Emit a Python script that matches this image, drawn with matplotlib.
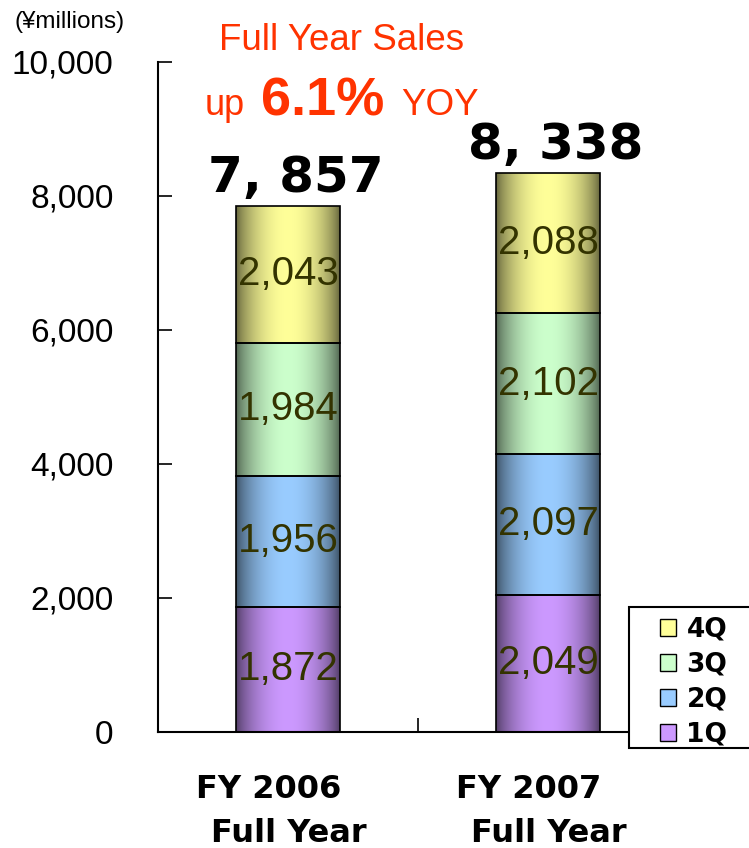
import numpy as np
import matplotlib
matplotlib.use("Agg")
import matplotlib.pyplot as plt
from matplotlib.patches import Patch, Rectangle
from matplotlib.colors import to_rgb
from matplotlib.transforms import blended_transform_factory

# ---- data ----
categories = ["FY 2006", "FY 2007"]
sublabels = ["Full Year", "Full Year"]
quarters = ["1Q", "2Q", "3Q", "4Q"]
q1 = [1872, 2049]
q2 = [1956, 2097]
q3 = [1984, 2102]
q4 = [2043, 2088]
totals = [7857, 8338]
total_labels = ["7, 857", "8, 338"]
yticks = [0, 2000, 4000, 6000, 8000, 10000]
ytick_labels = ["0", "2,000", "4,000", "6,000", "8,000", "10,000"]
colors = ["#CC99FF", "#99CCFF", "#CCFFCC", "#FFFF99"]

series = [q1, q2, q3, q4]

W, H = 749, 848
fig = plt.figure(figsize=(W / 100, H / 100), dpi=100)
ax = fig.add_axes([158 / W, 1 - 732 / H, (678 - 158) / W, (732 - 62) / H])

x = np.arange(len(categories))
bw = 0.4

def gradient_img(color, n=200):
    t = np.linspace(0, 1, n)
    f = 0.38 + 0.62 * np.sin(np.pi * t) ** 0.7
    rgb = np.array(to_rgb(color))
    img = np.clip(f[:, None] * rgb[None, :], 0, 1)
    return img[None, :, :]

bottom = np.zeros(len(categories))
for vals, col in zip(series, colors):
    bars = ax.bar(x, vals, bw, bottom=bottom, color="none",
                  edgecolor="black", linewidth=1.2, zorder=3)
    for b, v in zip(bars, vals):
        x0, y0 = b.get_x(), b.get_y()
        im = ax.imshow(gradient_img(col), extent=[x0, x0 + b.get_width(), y0, y0 + b.get_height()],
                       aspect="auto", zorder=2, interpolation="bilinear")
        im.set_clip_path(b)
        ax.text(b.get_x() + b.get_width() / 2, y0 + b.get_height() / 2, f"{v:,}",
                ha="center", va="center", fontsize=29, color="#333300",
                family="Liberation Sans", zorder=4)
    bottom = bottom + np.array(vals)

ax.set_ylim(0, 10000)
ax.set_xlim(-0.5, 1.5)

for xi, tot, lab in zip(x, totals, total_labels):
    ax.text(xi + 0.03, tot + 60, lab, ha="center", va="bottom", fontsize=36,
            fontweight="bold", family="DejaVu Sans", color="black", zorder=5)

# axes styling
for s in ["top", "right"]:
    ax.spines[s].set_visible(False)
ax.spines["left"].set_linewidth(1.5)
ax.spines["bottom"].set_linewidth(1.5)
ax.set_yticks(yticks)
ax.set_yticklabels(ytick_labels, fontsize=24, family="Liberation Sans")
ax.tick_params(axis="y", direction="in", length=10, width=1.2, pad=32)
ax.set_xticks([-0.5, 0.5, 1.5])
ax.set_xticklabels([])
ax.tick_params(axis="x", direction="in", length=10, width=1.2)

trans = blended_transform_factory(ax.transData, fig.transFigure)
for xi, c, s in zip(x, categories, sublabels):
    ax.text(xi - 0.355, 1 - 789 / H, c, transform=trans, ha="left", va="center",
            fontsize=23, fontweight="bold", family="DejaVu Sans")
    ax.text(xi - 0.295, 1 - 833 / H, s, transform=trans, ha="left", va="center",
            fontsize=23, fontweight="bold", family="DejaVu Sans")

fig.text(70 / W, 1 - 22 / H, "(¥millions)", ha="center", va="center",
         fontsize=17.5, family="Liberation Sans")

red = "#FF3300"
fig.text(342 / W, 1 - 40 / H, "Full Year Sales", ha="center", va="center",
         fontsize=26.5, color=red, family="Liberation Sans")
fig.text(205 / W, 1 - 115 / H, "up", ha="left", va="baseline",
         fontsize=26, color=red, family="Liberation Sans")
fig.text(261 / W, 1 - 115 / H, "6.1%", ha="left", va="baseline",
         fontsize=39, color=red, fontweight="bold", family="Liberation Sans")
fig.text(401 / W, 1 - 115 / H, "YOY", ha="left", va="baseline",
         fontsize=26.5, color=red, family="Liberation Sans")

# legend frame (extends past the right edge as in the reference)
frame = Rectangle((629 / W, 1 - 748 / H), 140 / W, (748 - 607) / H,
                  transform=fig.transFigure, facecolor="white", edgecolor="black",
                  linewidth=1.5, zorder=9)
fig.add_artist(frame)

handles = [Patch(facecolor=c, edgecolor="black", linewidth=1.0, label=q)
           for q, c in zip(quarters, colors)][::-1]
leg = fig.legend(handles=handles, loc="upper left",
                 bbox_to_anchor=(660 / W, 1 - 617 / H),
                 prop={"family": "DejaVu Sans", "weight": "bold", "size": 19},
                 frameon=False,
                 handlelength=0.6, handleheight=0.6, handletextpad=0.4,
                 labelspacing=0.34, borderpad=0.0, borderaxespad=0.0)
leg.set_zorder(10)

fig.savefig("out.png", dpi=100)
